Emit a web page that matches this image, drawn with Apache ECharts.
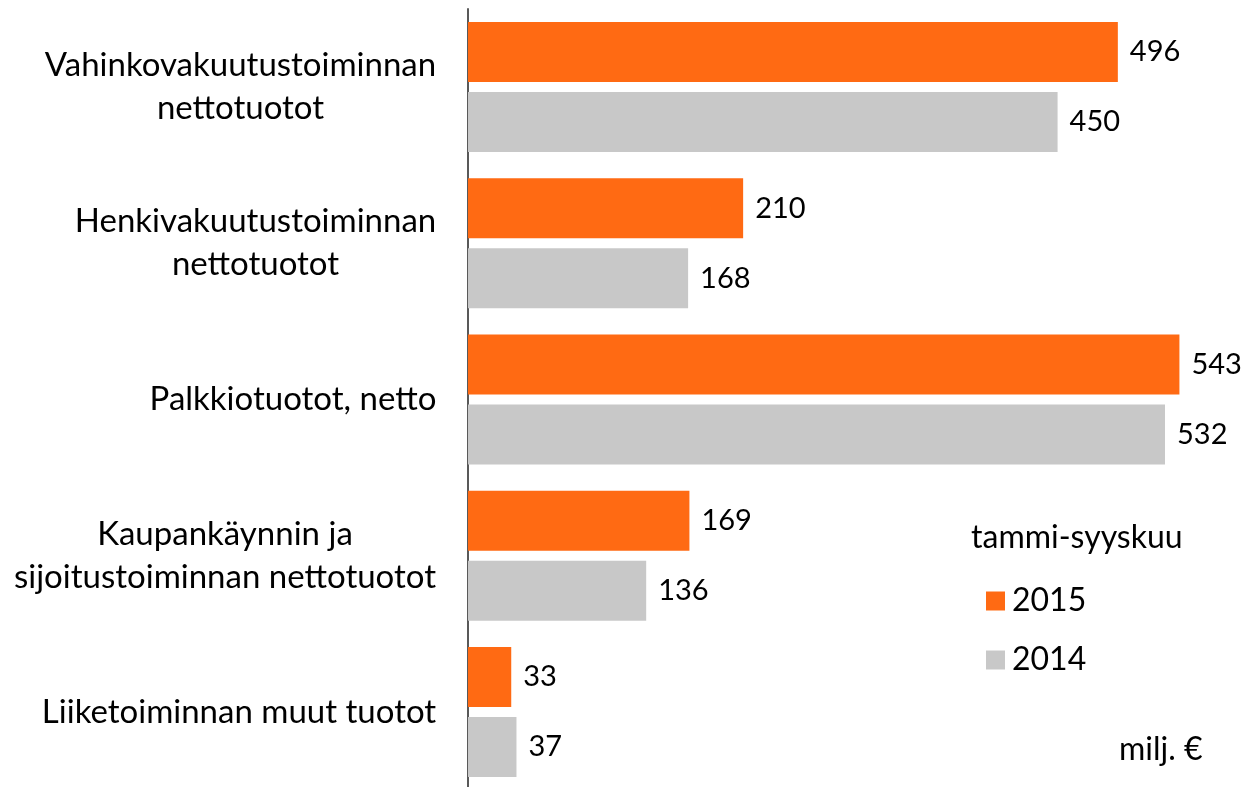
<!DOCTYPE html>
<html>
<head>
<meta charset="utf-8">
<script src="https://cdn.jsdelivr.net/npm/echarts@6/dist/echarts.min.js"></script>
<style>
  html, body { margin: 0; padding: 0; background: #fff; }
  #chart { width: 1241px; height: 787px; }
</style>
</head>
<body>
<div id="chart"></div>
<script>
// categories top to bottom
var categories = [
    'Vahinkovakuutustoiminnan\nnettotuotot',
    'Henkivakuutustoiminnan\nnettotuotot',
    'Palkkiotuotot, netto',
    'Kaupankäynnin ja\nsijoitustoiminnan nettotuotot',
    'Liiketoiminnan muut tuotot'
];
var values2015 = [496, 210, 543, 169, 33];
var values2014 = [450, 168, 532, 136, 37];
var seriesNames = ['2015', '2014'];
var legendTitle = 'tammi-syyskuu';
var unitText = 'milj. €';

var font = 'Lato, "Open Sans", sans-serif';
var catFontSize = 33;

// the category labels are right aligned as a block, but their lines are centred,
// so each label gets a rich style as wide as its longest line
var ctx = document.createElement('canvas').getContext('2d');
ctx.font = catFontSize + 'px ' + font;
var catRich = {};
categories.forEach(function (c, i) {
    var w = 0;
    c.split('\n').forEach(function (line) {
        w = Math.max(w, ctx.measureText(line).width);
    });
    catRich['c' + i] = {
        width: Math.ceil(w) + 1,
        align: 'center',
        fontFamily: font,
        fontSize: catFontSize,
        lineHeight: 43,
        color: '#000'
    };
});

var chart = echarts.init(document.getElementById('chart'));

var labelStyle = {
    show: true,
    position: 'right',
    distance: 12,
    color: '#000',
    fontFamily: font,
    fontSize: 29
};

var option = {
    backgroundColor: '#fff',
    animation: false,
    title: [
        {
            text: legendTitle,
            left: 966,
            top: 517,
            textStyle: { fontFamily: font, fontSize: 32, fontWeight: 'normal', color: '#000' }
        },
        {
            text: unitText,
            left: 1114,
            top: 729,
            textStyle: { fontFamily: font, fontSize: 32, fontWeight: 'normal', color: '#000' }
        }
    ],
    legend: {
        orient: 'vertical',
        left: 981,
        top: 576,
        itemWidth: 19,
        itemHeight: 19,
        itemGap: 19,
        icon: 'rect',
        data: seriesNames,
        textStyle: { fontFamily: font, fontSize: 32, color: '#000', lineHeight: 40, padding: [0, 0, 0, 2] }
    },
    grid: {
        left: 468,
        top: 9,
        width: 773,
        height: 781,
        outerBoundsMode: 'none'
    },
    xAxis: {
        type: 'value',
        min: 0,
        max: 590,
        show: false
    },
    yAxis: {
        type: 'category',
        inverse: true,
        data: categories,
        axisLine: { show: true, lineStyle: { color: '#595959', width: 2 } },
        axisTick: { show: false },
        axisLabel: {
            margin: 31,
            align: 'right',
            formatter: function (value, index) {
                return value.split('\n').map(function (line) {
                    return '{c' + index + '|' + line + '}';
                }).join('\n');
            },
            rich: catRich
        }
    },
    series: [
        {
            name: seriesNames[0],
            type: 'bar',
            data: values2015,
            barWidth: 60,
            barGap: '16.7%',
            barCategoryGap: '16.8%',
            itemStyle: { color: '#FF6A13' },
            label: labelStyle
        },
        {
            name: seriesNames[1],
            type: 'bar',
            data: values2014,
            barWidth: 60,
            itemStyle: { color: '#C8C8C8' },
            label: labelStyle
        }
    ]
};

chart.setOption(option);
</script>
</body>
</html>
